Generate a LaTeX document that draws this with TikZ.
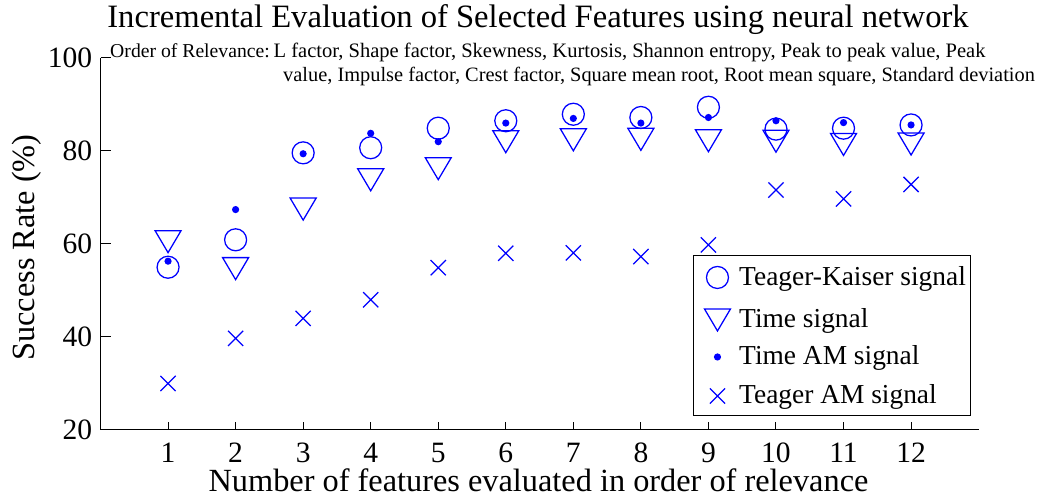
\documentclass[tikz,border=0pt]{standalone}
\usepackage{fontspec}
\setmainfont{Liberation Serif}
\usetikzlibrary{positioning}

\tikzset{
    axis/.style={black, line width=0.7pt},
    mk/.style={blue, line width=0.9pt},
    ticklabel/.style={font=\fontsize{21}{25}\selectfont, inner sep=0pt},
    tkmark/.pic={\draw[mk] (0,0) circle[radius=0.275cm];},
    timemark/.pic={\draw[mk] (-0.325cm,0.275cm) -- (0.325cm,0.275cm)
        -- (0,-0.275cm) -- cycle;},
    ammark/.pic={\fill[blue] (0,0) circle[radius=0.09cm];},
    teamark/.pic={\draw[mk] (-0.19cm,-0.19cm) -- (0.19cm,0.19cm)
        (-0.19cm,0.19cm) -- (0.19cm,-0.19cm);}
}

\begin{document}
\begin{tikzpicture}[x=1.68875cm, y=0.11625cm]
        \useasboundingbox (-1.488, 4.73) rectangle (13.894, 112.47);
        % axes
        \draw[axis] (0, 100) -- (0, 20) -- (13, 20);
        \foreach \v in {20, 40, ..., 100} {
            \draw[axis] (0, \v) -- ++(0.25cm, 0);
            \node[ticklabel, anchor=east] (y\v) at (-0.12, \v) {\v};
        }
        \foreach \i in {1, ..., 12} {
            \draw[axis] (\i, 20) -- ++(0, 0.2cm);
            \node[ticklabel, anchor=base] (x\i) at (\i, 13.1) {\i};
        }
        \node[anchor=base, font=\fontsize{23}{27}\selectfont] (xlabel)
            at (6.484, 6.67) {Number of features evaluated in order of relevance};
        \node[rotate=90, font=\fontsize{23}{27}\selectfont] (ylabel)
            at (-1.088, 59.25) {Success Rate (\%)};
        \node[anchor=base, font=\fontsize{23.2}{27}\selectfont] (title)
            at (6.477, 106.45) {Incremental Evaluation of Selected Features using neural network};
        % order of relevance
        \node[anchor=base west, inner sep=0pt, font=\fontsize{14}{17}\selectfont]
            (order) at (0.14, 100.0) {Order of Relevance:};
        \node[anchor=base west, inner sep=0pt, font=\fontsize{14.6}{17}\selectfont]
            (feat1) at (2.56, 100.0) {L factor, Shape factor, Skewness, Kurtosis, Shannon entropy, Peak to peak value, Peak};
        \node[anchor=base west, inner sep=0pt, font=\fontsize{14.5}{17}\selectfont]
            (feat2) at (2.70, 94.84) {value, Impulse factor, Crest factor, Square mean root, Root mean square, Standard deviation};
        % data
        \foreach \i/\a/\b/\c/\d in {1/55.0/60.5/56.3/30.0, 2/60.9/54.7/67.4/39.7,
                3/79.6/67.5/79.4/44.0, 4/80.7/73.8/83.8/48.0, 5/84.9/76.2/82.0/54.9,
                6/86.5/82.0/86.0/58.0, 7/87.9/82.4/87.0/58.1, 8/87.2/82.5/86.0/57.3,
                9/89.4/82.2/87.2/59.8, 10/84.7/82.1/86.5/71.6, 11/84.9/81.4/86.1/69.7,
                12/85.6/81.5/85.6/72.8} {
            \pic at (\i, \a) {tkmark};
            \pic at (\i, \b) {timemark};
            \pic at (\i, \c) {ammark};
            \pic at (\i, \d) {teamark};
        }
        % legend
        \draw[axis, fill=white] (8.786, 57.42) rectangle (12.887, 23.01);
        \pic at (9.134, 52.80) {tkmark};
        \pic at (9.134, 43.66) {timemark};
        \pic at (9.134, 35.70) {ammark};
        \pic at (9.134, 27.31) {teamark};
        \node[anchor=base west, inner sep=0pt, font=\fontsize{19.5}{23}\selectfont]
            (leg1) at (9.452, 51.08) {Teager-Kaiser signal};
        \node[anchor=base west, inner sep=0pt, font=\fontsize{19.5}{23}\selectfont]
            (leg2) at (9.452, 41.94) {Time signal};
        \node[anchor=base west, inner sep=0pt, font=\fontsize{19.5}{23}\selectfont]
            (leg3) at (9.452, 33.98) {Time AM signal};
        \node[anchor=base west, inner sep=0pt, font=\fontsize{19.5}{23}\selectfont]
            (leg4) at (9.452, 25.59) {Teager AM signal};
    \end{tikzpicture}
\end{document}
